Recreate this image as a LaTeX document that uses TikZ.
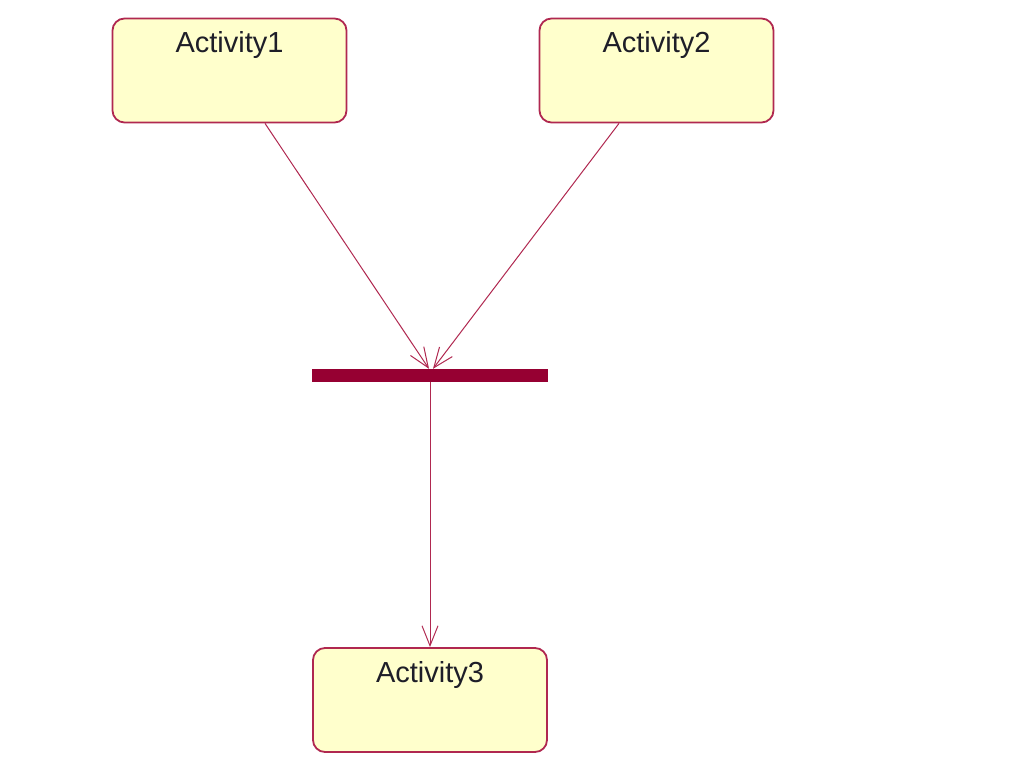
\documentclass[tikz,border=0pt]{standalone}
\usepackage{fontspec}
\setmainfont{Liberation Sans}
\usetikzlibrary{arrows.meta}
\definecolor{edgec}{RGB}{176,40,80}
\definecolor{barc}{RGB}{150,0,50}
\definecolor{fillc}{RGB}{255,255,204}
\definecolor{txtc}{RGB}{30,30,40}
\tikzset{
  actbox/.style={draw=edgec, line width=1.8pt, fill=fillc, rounded corners=12pt,
    minimum width=234pt, minimum height=104pt, inner sep=0pt},
  lbl/.style={anchor=base, text=txtc, font=\fontsize{29}{32}\selectfont, inner sep=0pt},
  barbox/.style={fill=barc, draw=none, minimum width=236pt, minimum height=13pt, inner sep=0pt},
  flow/.style={draw=edgec, line width=1pt, -{Straight Barb[length=20pt,width=16pt,line width=1pt]}}
}
\begin{document}
\begin{tikzpicture}[x=1pt,y=1pt]
\useasboundingbox (0,0) rectangle (1024,764);
\fill[white] (0,0) rectangle (1024,764);
\node[actbox] (a1) at (229.5,693.5) {};
\node[actbox] (a2) at (656.5,693.5) {};
\node[actbox] (a3) at (430,64) {};
\node[lbl] (t1) at ([yshift=-35pt]a1.north) {Activity1};
\node[lbl] (t2) at ([yshift=-35pt]a2.north) {Activity2};
\node[lbl] (t3) at ([yshift=-35pt]a3.north) {Activity3};
\node[barbox] (bar) at (430,388.5) {};
\draw[flow] ([xshift=35.5pt]a1.south) -- ([xshift=-1pt]bar.north);
\draw[flow] ([xshift=-37.5pt]a2.south) -- ([xshift=3pt]bar.north);
\draw[flow] (bar.south) -- (a3.north);
\end{tikzpicture}
\end{document}
